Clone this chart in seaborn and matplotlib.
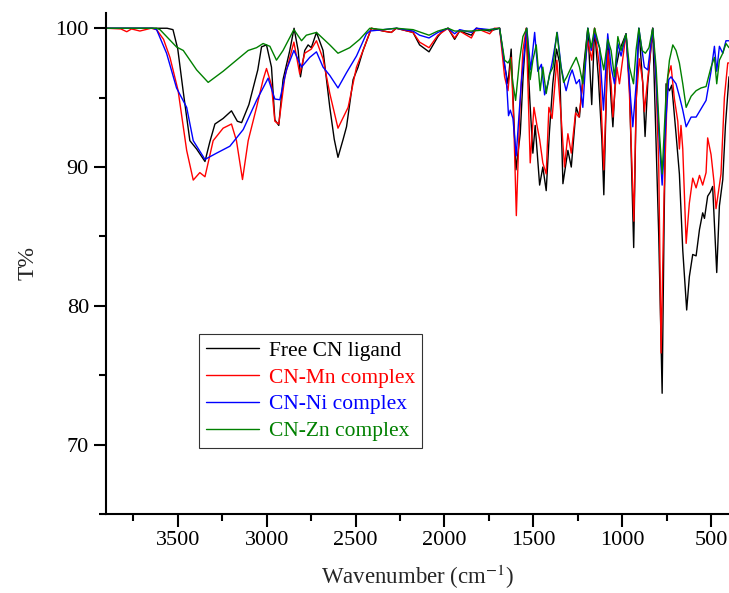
import pandas as pd
import matplotlib
matplotlib.use("Agg")
import matplotlib.pyplot as plt
import seaborn as sns
from matplotlib.ticker import MultipleLocator

# wavenumber (cm-1) / transmittance (%)
free_wn = [3900, 3700, 3560, 3527, 3500, 3470, 3432, 3394, 3347, 3320, 3291, 3245, 3198, 3165, 3141,
           3100, 3076, 3050, 3029, 3001, 2973, 2954, 2932, 2908, 2870, 2846, 2823, 2810, 2786, 2767,
           2749, 2720, 2683, 2645, 2620, 2599, 2570, 2551, 2514, 2486, 2458, 2411, 2345, 2299, 2271,
           2177, 2140, 2087, 2037, 2008, 1980, 1943, 1915, 1849, 1821, 1746, 1690,
           1662, 1643, 1625, 1610, 1598, 1574, 1558, 1540, 1520, 1503, 1490, 1465, 1447, 1428, 1410,
           1391, 1370, 1353, 1334, 1306, 1287, 1259, 1241, 1215, 1194, 1172, 1156, 1135, 1115, 1104,
           1082, 1063, 1053, 1035, 1016, 979, 960, 948, 936, 922, 907, 885, 872, 857, 829, 810, 795,
           776, 765, 754, 735, 722, 698, 679, 660, 638, 623, 604, 585, 566, 548, 538, 520, 505, 492,
           469, 454, 435, 420, 400]
free_t = [100, 100, 100, 99.9, 98.5, 95.5, 91.9, 91.3, 90.4, 91.8, 93.1, 93.5, 94.05, 93.3, 93.2,
          94.5, 95.7, 97.0, 98.66, 98.8, 97.2, 93.4, 93.0, 96.3, 98.4, 100, 98.4, 96.5, 98.4, 98.8,
          98.6, 99.7, 98.4, 94.3, 92.0, 90.7, 92.0, 92.9, 96.3, 97.2, 98.4, 100, 99.8, 99.7, 100,
          99.7, 98.8, 98.3, 99.4, 99.85, 100, 99.2, 99.8, 99.5, 100, 99.8, 100,
          97.3, 96.0, 98.5, 93.5, 89.8, 92.4, 96.5, 100, 94.8, 91.0, 93.0, 88.7, 90.0, 88.3, 92.5,
          96.0, 98.5, 97.5, 88.8, 91.2, 90.0, 94.3, 93.6, 97.5, 100, 94.5, 100, 96.5, 92.0, 88.0,
          99.1, 94.8, 92.9, 97.2, 98.4, 99.6, 96.0, 90.0, 84.2, 94.8, 100, 96.0, 92.2, 96.0, 100, 91.7, 85.0,
          73.7, 86.0, 96.0, 95.5, 95.9, 92.4, 89.5, 84.0, 79.7, 82.1, 83.7, 83.6, 85.5, 86.7, 86.3, 87.9, 88.2, 88.6,
          82.4, 87.2, 89.1, 93.0, 96.5]

mn_wn = [3900, 3820, 3787, 3760, 3713, 3650, 3619, 3580, 3544, 3498, 3450, 3413, 3376, 3347, 3301,
         3245, 3198, 3170, 3136, 3104, 3057, 3020, 3001, 2973, 2954, 2932, 2898, 2847, 2814, 2786,
         2749, 2720, 2683, 2645, 2599, 2542, 2495, 2458, 2411, 2345, 2299, 2271, 2177, 2140, 2087,
         2037, 1980, 1943, 1915, 1849, 1821, 1746, 1720, 1690,
         1662, 1643, 1625, 1610, 1596, 1578, 1559, 1540, 1518, 1497, 1480, 1465, 1447, 1428, 1413,
         1395, 1368, 1344, 1325, 1306, 1287, 1263, 1244, 1222, 1194, 1172, 1156, 1128, 1104, 1082,
         1063, 1053, 1031, 1016, 979, 960, 935, 922, 904, 885, 876, 847, 829, 810, 795, 782, 765,
         745, 726, 707, 688, 679, 670, 660, 641, 623, 604, 585, 566, 548, 529, 520, 501, 485, 473,
         445, 426, 407, 400]
mn_t = [100, 99.95, 99.75, 99.95, 99.8, 100, 99.9, 99.2, 97.9, 95.5, 91.2, 89.06, 89.6, 89.3, 91.9,
        92.8, 93.1, 91.9, 89.1, 91.9, 94.3, 96.3, 97.1, 95.9, 93.3, 93.1, 96.5, 99.0, 96.7, 98.2,
        98.5, 99.1, 97.8, 95.3, 92.8, 94.3, 97.2, 98.4, 100, 99.8, 99.7, 100, 99.7, 99.0, 98.6,
        99.5, 100, 99.3, 99.8, 99.3, 100, 99.6, 100, 100,
        96.5, 95.5, 97.9, 93.0, 86.5, 93.6, 98.4, 100, 90.3, 94.3, 93.0, 92.0, 90.3, 89.5, 94.3,
        93.5, 97.7, 93.6, 90.0, 92.4, 91.0, 93.9, 93.6, 96.0, 99.1, 97.7, 100, 97.2, 89.8, 98.4,
        96.0, 93.6, 97.2, 96.0, 99.6, 95.3, 86.1, 94.8, 97.8, 96.1, 94.0, 97.6, 100, 96.1, 90.0, 76.6, 88.0,
        96.5, 97.3, 94.9, 93.3, 91.3, 93.0, 91.3, 84.5, 87.4, 89.2, 88.5, 89.4, 88.7, 89.6, 92.1, 90.9, 89.0, 87.0,
        89.5, 95.0, 97.5, 97.5]

ni_wn = [3900, 3700, 3640, 3619, 3563, 3507, 3450, 3413, 3347, 3282, 3207, 3132, 3057, 2992, 2954,
         2926, 2889, 2847, 2804, 2758, 2720, 2683, 2645, 2599, 2551, 2495, 2439, 2420, 2345, 2271,
         2177, 2140, 2087, 2037, 1980, 1943, 1915, 1849, 1821, 1746, 1690,
         1653, 1640, 1630, 1615, 1597, 1568, 1537, 1515, 1493, 1475, 1455, 1437, 1419, 1395, 1366,
         1344, 1325, 1316, 1297, 1282, 1259, 1241, 1222, 1194, 1175, 1156, 1128, 1106, 1082, 1063,
         1044, 1025, 1007, 979, 960, 941, 922, 907, 889, 876, 857, 829, 810, 791, 776, 754, 739,
         726, 698, 679, 660, 641, 613, 585, 557, 529, 501, 482, 469, 454, 435, 417, 400]
ni_t = [100, 100, 100, 99.9, 98.2, 95.7, 94.3, 91.9, 90.55, 91.0, 91.5, 92.7, 94.8, 96.4, 94.9,
        94.85, 97.0, 98.4, 97.2, 97.9, 98.3, 97.2, 96.6, 95.7, 96.8, 98.0, 99.6, 99.8, 99.9, 100,
        99.8, 99.5, 99.3, 99.7, 100, 99.6, 99.9, 99.7, 100, 99.9, 100,
        96.6, 93.7, 94.1, 93.5, 90.8, 96.1, 100, 97.0, 99.7, 96.9, 97.4, 95.2, 96.0, 97.5, 99.7,
        97.2, 96.0, 95.5, 96.5, 97.0, 96.0, 96.3, 94.3, 100, 98.4, 99.6, 98.6, 94.1, 99.6, 97.2,
        96.0, 98.9, 98.0, 99.6, 96.0, 92.9, 96.0, 100, 98.4, 97.2, 97.0, 100, 96.3, 91.7, 88.7, 93.6, 96.3,
        96.5, 96.0, 95.1, 94.1, 92.9, 93.6, 93.6, 94.2, 94.8, 96.9, 98.7, 96.9, 98.7, 98.2, 99.1, 99.1]

zn_wn = [3900, 3700, 3620, 3600, 3507, 3469, 3394, 3329, 3245, 3170, 3104, 3057, 3020, 2982, 2945,
         2908, 2847, 2804, 2777, 2720, 2645, 2599, 2533, 2477, 2420, 2345, 2271, 2177, 2087, 2037,
         1980, 1943, 1849, 1746, 1690,
         1662, 1643, 1630, 1615, 1600, 1578, 1559, 1537, 1518, 1503, 1484, 1462, 1447, 1428, 1409,
         1390, 1368, 1345, 1330, 1312, 1287, 1259, 1241, 1222, 1194, 1175, 1156, 1128, 1104, 1082,
         1063, 1044, 1025, 1007, 979, 960, 937, 922, 907, 889, 870, 850, 829, 810, 791, 776, 754,
         735, 716, 698, 679, 660, 641, 613, 585, 557, 529, 501, 482, 469, 454, 435, 417, 400]
zn_t = [100, 100, 100, 99.9, 98.65, 98.4, 97.0, 96.1, 96.9, 97.7, 98.4, 98.6, 98.9, 98.7, 97.7,
        98.4, 99.9, 99.1, 99.5, 99.7, 98.8, 98.2, 98.6, 99.2, 100, 99.9, 100, 99.9, 99.5, 99.8,
        100, 99.8, 99.8, 99.9, 100,
        97.7, 97.5, 97.8, 96.0, 94.8, 97.7, 99.4, 100, 96.3, 97.7, 98.8, 95.5, 97.2, 95.3, 96.7,
        97.2, 99.7, 97.2, 96.1, 96.5, 97.2, 97.9, 97.2, 96.0, 100, 98.6, 100, 98.6, 97.0, 99.2,
        98.4, 96.5, 99.4, 98.4, 99.6, 97.2, 96.0, 98.5, 100, 98.4, 98.2, 98.6, 100, 97.2, 92.4, 89.5, 95.3,
        97.7, 98.8, 98.4, 97.5, 96.0, 94.3, 95.1, 95.5, 95.7, 95.8, 97.2, 97.9, 96.0, 97.7, 98.2, 98.9, 98.6]

labels = ["Free CN ligand", "CN-Mn complex", "CN-Ni complex", "CN-Zn complex"]
colors = ["black", "red", "blue", "green"]

frames = []
for lab, wn, t in zip(labels, [free_wn, mn_wn, ni_wn, zn_wn], [free_t, mn_t, ni_t, zn_t]):
    frames.append(pd.DataFrame({"wn": wn, "T": t, "sample": lab}))
df = pd.concat(frames, ignore_index=True)

sns.set_style("ticks")
plt.rcParams["font.family"] = ["Liberation Serif", "DejaVu Serif"]
plt.rcParams["mathtext.fontset"] = "stix"

fig = plt.figure(figsize=(7.29, 5.93), dpi=100)
ax = fig.add_axes([0.1458, 0.1332, 0.8542, 0.8449])

sns.lineplot(data=df, x="wn", y="T", hue="sample", palette=dict(zip(labels, colors)),
             estimator=None, linewidth=1.0, ax=ax, legend=False)

ax.set_xlim(3902, 400)
ax.set_ylim(65, 101.1)
ax.xaxis.set_major_locator(MultipleLocator(500))
ax.xaxis.set_minor_locator(MultipleLocator(250))
ax.yaxis.set_major_locator(MultipleLocator(10))
ax.yaxis.set_minor_locator(MultipleLocator(5))
ax.tick_params(which="major", direction="out", length=9, width=1.5, labelsize=16, colors="black")
ax.tick_params(which="minor", direction="out", length=5, width=1.5, colors="black")
for s in ["top", "right"]:
    ax.spines[s].set_visible(False)
for s in ["left", "bottom"]:
    ax.spines[s].set_linewidth(1.5)
    ax.spines[s].set_color("black")

ax.set_xlabel("Wavenumber (cm$^{-1}$)", fontsize=16.5, labelpad=9)
ax.set_ylabel("T%", fontsize=17, labelpad=12)

handles = [plt.Line2D([], [], color=c, lw=1.0) for c in colors]
leg = ax.legend(handles, labels, loc="lower left", bbox_to_anchor=(0.149, 0.132),
                fontsize=15.5, frameon=True, fancybox=False, handlelength=2.5,
                handletextpad=0.45, labelspacing=0.32, borderpad=0.3, borderaxespad=0,
                labelcolor=colors)
leg.get_frame().set_edgecolor("black")
leg.get_frame().set_linewidth(0.8)

plt.savefig("out.png", dpi=100)
